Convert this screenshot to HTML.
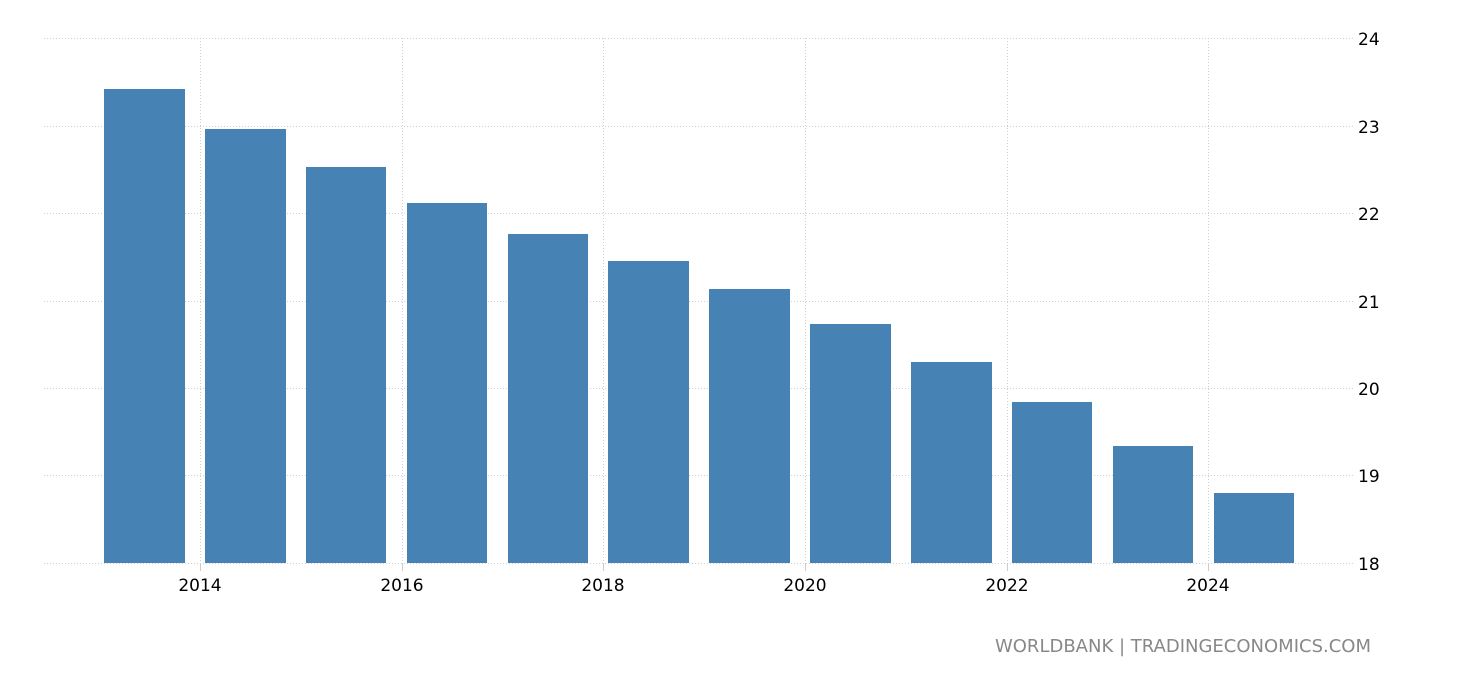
<!DOCTYPE html>
<html><head><style>
html,body{margin:0;padding:0;background:#fff;}
svg text{font-family:"DejaVu Sans","Liberation Sans",sans-serif;}
</style></head><body>
<svg width="1460" height="680" xmlns="http://www.w3.org/2000/svg">
<g stroke="#d0d0d0" stroke-width="1" stroke-dasharray="1,2" fill="none">
<line x1="44" y1="38.5" x2="1354" y2="38.5"/>
<line x1="44" y1="126.5" x2="1354" y2="126.5"/>
<line x1="44" y1="213.5" x2="1354" y2="213.5"/>
<line x1="44" y1="301.5" x2="1354" y2="301.5"/>
<line x1="44" y1="388.5" x2="1354" y2="388.5"/>
<line x1="44" y1="475.5" x2="1354" y2="475.5"/>
<line x1="44" y1="563.5" x2="1354" y2="563.5"/>
<line x1="200.5" y1="38" x2="200.5" y2="563"/>
<line x1="402.5" y1="38" x2="402.5" y2="563"/>
<line x1="603.5" y1="38" x2="603.5" y2="563"/>
<line x1="805.5" y1="38" x2="805.5" y2="563"/>
<line x1="1007.5" y1="38" x2="1007.5" y2="563"/>
<line x1="1208.5" y1="38" x2="1208.5" y2="563"/>
</g>
<g stroke="#cccccc" stroke-width="1">
<line x1="200.5" y1="563" x2="200.5" y2="571"/>
<line x1="402.5" y1="563" x2="402.5" y2="571"/>
<line x1="603.5" y1="563" x2="603.5" y2="571"/>
<line x1="805.5" y1="563" x2="805.5" y2="571"/>
<line x1="1007.5" y1="563" x2="1007.5" y2="571"/>
<line x1="1208.5" y1="563" x2="1208.5" y2="571"/>
</g>
<g fill="#4682b4">
<rect x="104" y="89" width="81" height="474"/>
<rect x="205" y="129" width="81" height="434"/>
<rect x="306" y="167" width="80" height="396"/>
<rect x="407" y="203" width="80" height="360"/>
<rect x="508" y="234" width="80" height="329"/>
<rect x="608" y="261" width="81" height="302"/>
<rect x="709" y="289" width="81" height="274"/>
<rect x="810" y="324" width="81" height="239"/>
<rect x="911" y="362" width="81" height="201"/>
<rect x="1012" y="402" width="80" height="161"/>
<rect x="1113" y="446" width="80" height="117"/>
<rect x="1214" y="493" width="80" height="70"/>
</g>
<g font-size="17" fill="#000">
<text x="1358" y="45">24</text>
<text x="1358" y="133">23</text>
<text x="1358" y="220">22</text>
<text x="1358" y="308">21</text>
<text x="1358" y="395">20</text>
<text x="1358" y="482">19</text>
<text x="1358" y="570">18</text>
</g>
<g font-size="17" fill="#000" text-anchor="middle">
<text x="200" y="591">2014</text>
<text x="402" y="591">2016</text>
<text x="603" y="591">2018</text>
<text x="805" y="591">2020</text>
<text x="1007" y="591">2022</text>
<text x="1208" y="591">2024</text>
</g>
<text x="1371" y="652" font-size="18" fill="#888" text-anchor="end">WORLDBANK | TRADINGECONOMICS.COM</text>
</svg>
</body></html>
